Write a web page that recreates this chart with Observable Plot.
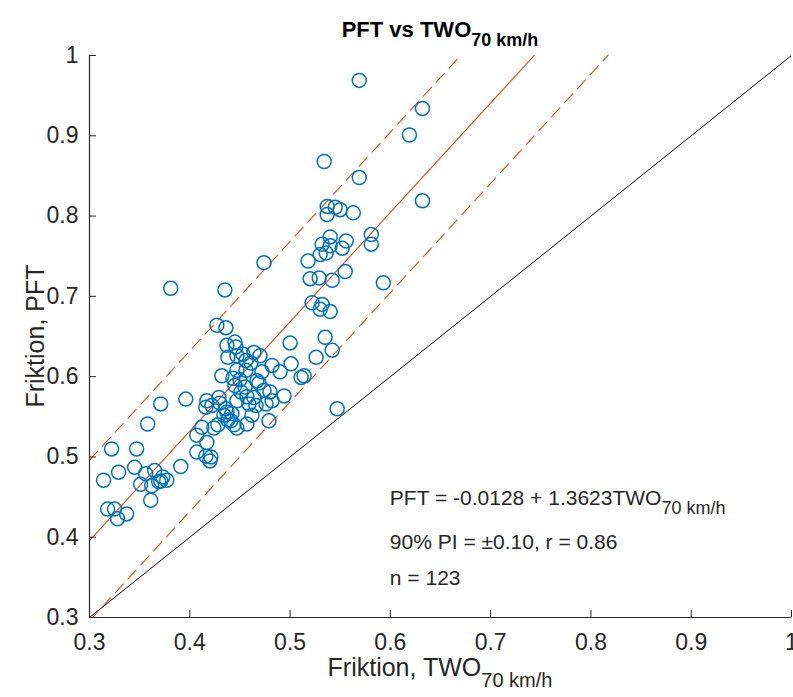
<!DOCTYPE html>
<html><head><meta charset="utf-8">
<script src="https://cdn.jsdelivr.net/npm/d3@7"></script>
<script src="https://cdn.jsdelivr.net/npm/@observablehq/plot@0.6"></script>
<style>body{margin:0;background:#fff} svg{display:block}</style>
</head><body><div id="chart"></div>
<script>
// Friktion TWO (70 km/h) vs PFT
const two = [
  0.474,0.381,0.435,
  0.569,0.632,0.619,0.534,0.569,0.632,0.537,0.545,0.550,0.537,0.563,0.581,0.581,0.540,0.556,0.532,0.540,0.552,0.530,0.536,0.518,0.555,0.520,0.529,0.542,0.593,
  0.522,0.532,0.530,0.540,0.500,0.535,0.542,0.526,0.501,0.490,0.511,0.514,0.494,0.547,
  0.427,0.436,0.437,0.445,0.446,0.438,0.447,0.464,0.470,0.456,0.461,0.447,0.456,0.482,0.432,0.472,0.467,0.469,0.445,0.455,0.451,0.480,0.447,0.457,0.464,0.482,0.466,0.459,0.417,0.429,0.416,0.422,0.430,0.436,0.442,0.434,0.437,0.441,0.444,0.447,0.457,0.479,
  0.371,0.396,0.358,0.412,0.424,0.407,0.417,0.407,0.416,0.421,0.420,
  0.322,0.347,0.314,0.329,0.345,0.356,0.351,0.365,0.362,0.369,0.373,0.377,0.371,0.391,0.361,0.318,0.325,0.328,0.337,
  0.450,0.474,0.462,0.443,0.453,0.476,0.438,0.428
];
const pft = [
  0.742,0.710,0.708,
  0.969,0.934,0.901,0.868,0.848,0.819,0.812,0.811,0.808,0.802,0.804,0.777,0.765,0.774,0.769,0.765,0.763,0.760,0.752,0.754,0.744,0.731,0.722,0.723,0.720,0.717,
  0.692,0.690,0.684,0.681,0.642,0.649,0.633,0.624,0.616,0.606,0.599,0.601,0.576,0.560,
  0.664,0.661,0.639,0.643,0.637,0.624,0.626,0.630,0.626,0.620,0.617,0.608,0.608,0.614,0.601,0.606,0.595,0.592,0.589,0.587,0.581,0.581,0.570,0.575,0.574,0.570,0.564,0.566,0.570,0.574,0.562,0.564,0.567,0.560,0.554,0.552,0.556,0.545,0.540,0.536,0.541,0.545,
  0.566,0.572,0.541,0.537,0.536,0.527,0.518,0.506,0.501,0.500,0.495,
  0.510,0.510,0.471,0.481,0.487,0.479,0.466,0.483,0.464,0.469,0.475,0.471,0.470,0.488,0.446,0.435,0.435,0.423,0.429,
  0.596,0.583,0.552,0.598,0.628,0.566,0.546,0.540
];
const tickValues = [0.3,0.4,0.5,0.6,0.7,0.8,0.9,1];
const tickLabels = ["0.3","0.4","0.5","0.6","0.7","0.8","0.9","1"];
const intercept = -0.0128, slope = 1.3623, halfPI = 0.10, corr = 0.86;
const lineXs = [0.3, 1];

const points = two.map((x, i) => ({x, y: pft[i]}));
const diag = lineXs.map(x => ({x, y: x}));
const fit = lineXs.map(x => ({x, y: intercept + slope * x}));
const upper = lineXs.map(x => ({x, y: intercept + slope * x + halfPI}));
const lower = lineXs.map(x => ({x, y: intercept + slope * x - halfPI}));
const fmt = d => tickLabels[tickValues.findIndex(t => Math.abs(t - d) < 1e-9)];

const W = 793, H = 697;
const font = "'Liberation Sans', Arial, Helvetica, sans-serif";
const orange = "#D95319", blue = "#0072BD", axisCol = "#262626";

const chart = Plot.plot({
  width: W, height: H,
  marginLeft: 89, marginRight: 2, marginTop: 55, marginBottom: 80,
  x: {domain: [0.3, 1]},
  y: {domain: [0.3, 1]},
  style: {fontFamily: font, fontSize: "23px", color: axisCol, background: "white"},
  marks: [
    Plot.line(diag, {x: "x", y: "y", stroke: "black", strokeWidth: 1, clip: true}),
    Plot.line(fit, {x: "x", y: "y", stroke: orange, strokeWidth: 1.1, clip: true}),
    Plot.line(upper, {x: "x", y: "y", stroke: orange, strokeWidth: 1.1, strokeDasharray: "12,7", clip: true}),
    Plot.line(lower, {x: "x", y: "y", stroke: orange, strokeWidth: 1.1, strokeDasharray: "12,7", clip: true}),
    Plot.dot(points, {x: "x", y: "y", r: 7, stroke: blue, strokeWidth: 1.5, fill: "none"}),
    Plot.ruleX([0.3], {stroke: axisCol, strokeWidth: 1.2}),
    Plot.ruleY([0.3], {stroke: axisCol, strokeWidth: 1.2}),
    Plot.axisX({ticks: tickValues, tickFormat: fmt, tickSize: -7, tickPadding: 23, label: null, fontSize: 23, stroke: axisCol}),
    Plot.axisY({ticks: tickValues, tickFormat: fmt, tickSize: -7, tickPadding: 18, label: null, fontSize: 23, stroke: axisCol})
  ]
});
document.getElementById("chart").appendChild(chart);

const svg = d3.select(chart);
const sx = chart.scale("x"), sy = chart.scale("y");
const cx = (sx.apply(0.3) + sx.apply(1)) / 2;
const cy = (sy.apply(0.3) + sy.apply(1)) / 2;

function subText(g, main, sub, {x, y, size, subSize, anchor = "start", weight = "normal"}) {
  const t = g.append("text").attr("x", x).attr("y", y)
    .attr("text-anchor", anchor).attr("font-family", font)
    .attr("font-size", size).attr("font-weight", weight).attr("fill", axisCol);
  t.append("tspan").text(main);
  if (sub) t.append("tspan").attr("dy", size * 0.42).attr("font-size", subSize).text(sub);
  return t;
}

// Title
subText(svg, "PFT vs TWO", "70 km/h", {x: cx, y: 37, size: 22, subSize: 18, anchor: "middle", weight: "bold"})
  .attr("fill", "black");
// X label
subText(svg, "Friktion, TWO", "70 km/h", {x: cx, y: 676, size: 25, subSize: 20, anchor: "middle"});
// Y label
svg.append("text").attr("transform", `translate(44,${cy}) rotate(-90)`)
  .attr("text-anchor", "middle").attr("font-family", font).attr("font-size", 25)
  .attr("fill", axisCol).text("Friktion, PFT");

// Annotations
const ax = sx.apply(0.6);
subText(svg, `PFT = ${intercept.toFixed(4)} + ${slope.toFixed(4)}TWO`, "70 km/h", {x: ax, y: 505, size: 21, subSize: 18});
svg.append("text").attr("x", ax).attr("y", 549).attr("text-anchor", "start").attr("font-family", font).attr("font-size", 21).attr("fill", axisCol)
  .text(`90% PI = \u00B1${halfPI.toFixed(2)}, r = ${corr.toFixed(2)}`);
svg.append("text").attr("x", ax).attr("y", 585).attr("text-anchor", "start").attr("font-family", font).attr("font-size", 21).attr("fill", axisCol)
  .text(`n = ${points.length}`);
</script>
</body></html>
